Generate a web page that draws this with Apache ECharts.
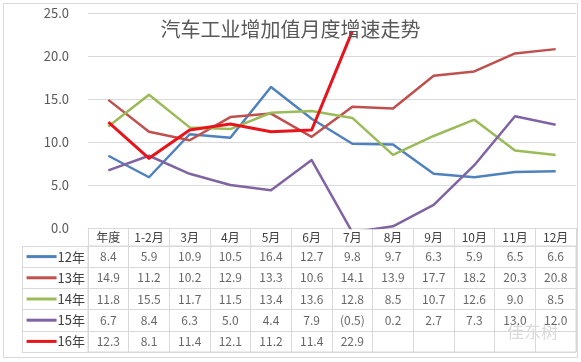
<!DOCTYPE html>
<html>
<head>
<meta charset="utf-8">
<script src="https://cdn.jsdelivr.net/npm/echarts@6/dist/echarts.min.js"></script>
<style>
html,body{margin:0;padding:0;background:#fff;}
#c{width:581px;height:362px;}
</style>
</head>
<body>
<div id="c"></div>
<script>
const categories = ['年度','1-2月','3月','4月','5月','6月','7月','8月','9月','10月','11月','12月'];
const seriesNames = ['12年','13年','14年','15年','16年'];
const s12 = [8.4,5.9,10.9,10.5,16.4,12.7,9.8,9.7,6.3,5.9,6.5,6.6];
const s13 = [14.9,11.2,10.2,12.9,13.3,10.6,14.1,13.9,17.7,18.2,20.3,20.8];
const s14 = [11.8,15.5,11.7,11.5,13.4,13.6,12.8,8.5,10.7,12.6,9.0,8.5];
const s15 = [6.7,8.4,6.3,5.0,4.4,7.9,-0.5,0.2,2.7,7.3,13.0,12.0];
const s16 = [12.3,8.1,11.4,12.1,11.2,11.4,22.9,null,null,null,null,null];
const titleText = '汽车工业增加值月度增速走势';
const yMin = 0, yMax = 25, yStep = 5;

const allSeries = [s12, s13, s14, s15, s16];
const colors = ['#4F81BD','#C0504D','#9BBB59','#8064A2','#E8141C'];
const widths = [2.5, 2.5, 2.5, 2.5, 3];
const gridLine = '#D9D9D9';
const textCol = '#404040';
const font = '"Noto Sans CJK SC", "Liberation Sans", sans-serif';

const tableData = [];
allSeries.forEach((arr, r) => {
  arr.forEach((v, c) => { if (v !== null) tableData.push([c, r, v]); });
});

const rich = { t: { fontSize: 13, color: textCol, fontFamily: font, padding: [0, 0, 0, 1] } };
colors.forEach((c, i) => { rich['l' + i] = { width: 30, height: 3, backgroundColor: c }; });

const chart = echarts.init(document.getElementById('c'), null, { renderer: 'canvas' });
chart.setOption({
  animation: false,
  backgroundColor: '#fff',
  textStyle: { fontFamily: font },
  title: {
    text: titleText, left: 'center', top: 14,
    textStyle: { fontSize: 20, fontWeight: 'normal', color: '#595959', fontFamily: font }
  },
  grid: [
    { left: 88, right: 5, top: 13, bottom: 134 },
    { left: 88, right: 5, top: 246, height: 106, show: true, borderColor: gridLine, borderWidth: 1 }
  ],
  xAxis: [
    {
      type: 'category', gridIndex: 0, data: categories, boundaryGap: true,
      axisLine: { lineStyle: { color: gridLine } },
      axisTick: { show: true, length: 18, interval: 0, lineStyle: { color: gridLine } },
      axisLabel: { margin: 3, interval: 0, fontSize: 12, color: textCol, fontFamily: font }
    },
    {
      type: 'category', gridIndex: 1, data: categories, boundaryGap: true,
      axisLine: { show: false }, axisTick: { show: false }, axisLabel: { show: false },
      splitLine: { show: true, interval: 0, lineStyle: { color: gridLine } }
    }
  ],
  yAxis: [
    {
      type: 'value', gridIndex: 0, min: yMin, max: yMax, interval: yStep,
      axisLine: { show: false }, axisTick: { show: false },
      axisLabel: { margin: 19, fontSize: 13, color: '#595959', fontFamily: font,
        formatter: v => v.toFixed(1) },
      splitLine: { lineStyle: { color: gridLine } }
    },
    {
      type: 'category', gridIndex: 1, data: seriesNames, inverse: true, boundaryGap: true,
      axisLine: { show: false },
      axisTick: { show: true, length: 66, interval: 0, lineStyle: { color: gridLine } },
      splitLine: { show: true, interval: 0, lineStyle: { color: gridLine } },
      axisLabel: { margin: 3, interval: 0, formatter: (v, i) => '{l' + i + '| }{t|' + v + '}', rich: rich }
    }
  ],
  series: allSeries.map((arr, i) => ({
    name: seriesNames[i], type: 'line', xAxisIndex: 0, yAxisIndex: 0,
    data: arr, showSymbol: false, symbol: 'none', clip: true,
    connectNulls: false,
    lineStyle: { color: colors[i], width: widths[i], join: 'round' },
    itemStyle: { color: colors[i] },
    z: i === 4 ? 5 : 3
  })).concat([{
    type: 'scatter', xAxisIndex: 1, yAxisIndex: 1, data: tableData,
    symbolSize: 1, itemStyle: { color: 'rgba(0,0,0,0)' }, silent: true,
    label: {
      show: true, position: 'inside', fontSize: 12, color: textCol, fontFamily: font,
      formatter: p => { const v = p.value[2]; return v < 0 ? '(' + Math.abs(v).toFixed(1) + ')' : v.toFixed(1); }
    }
  }]),
  graphic: [
    { type: 'rect', silent: true, shape: { x: 3.5, y: 3.5, width: 574, height: 354 },
      style: { fill: 'none', stroke: gridLine, lineWidth: 1 }, z: -1 },
    { type: 'line', silent: true, shape: { x1: 22.5, y1: 246, x2: 22.5, y2: 352 },
      style: { stroke: gridLine, lineWidth: 1 } },
    { type: 'text', silent: true, left: 507, top: 323,
      style: { text: '佳东树', fontSize: 17, fill: 'rgba(150,150,150,0.35)', fontFamily: font } }
  ]
});
</script>
</body>
</html>
